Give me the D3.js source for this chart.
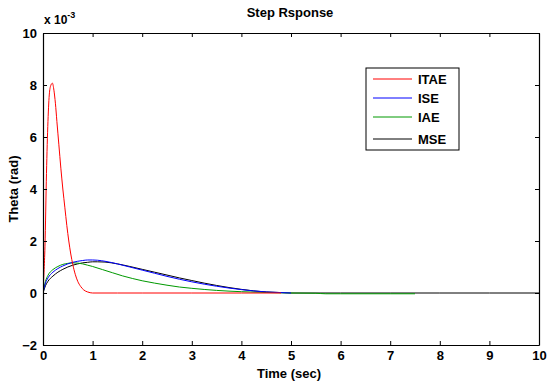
<!DOCTYPE html>
<html>
<head>
<meta charset="utf-8">
<script src="https://cdn.jsdelivr.net/npm/d3@7"></script>
<style>
  body { margin: 0; background: #fff; }
  text { font-family: "Liberation Sans", Arial, sans-serif; font-weight: bold; }
</style>
</head>
<body>
<svg id="chart" width="547" height="383"></svg>
<script>
// ---- data (Theta in units of 1e-3 rad) ----
const titleText = "Step Rsponse";
const xLabel = "Time (sec)";
const yLabel = "Theta (rad)";
const xTicks = [0,1,2,3,4,5,6,7,8,9,10];
const yTicks = [-2,0,2,4,6,8,10];

const itaeT = [0,0.02,0.04,0.07,0.10,0.13,0.16,0.19,0.22,0.25,0.28,0.32,0.36,0.40,0.44,0.48,0.52,0.56,0.60,0.65,0.70,0.76,0.82,0.90,1.0,1.5,2,3,4,4.8];
const itaeV = [0,0.8,1.8,4.6,6.6,7.7,8.0,8.07,7.8,7.3,6.6,5.7,4.8,4.0,3.3,2.6,2.0,1.5,1.1,0.72,0.45,0.25,0.12,0.04,0,0,0,0,0,0];

const iseT = [0,0.05,0.1,0.2,0.3,0.4,0.5,0.6,0.7,0.8,0.9,1.0,1.1,1.25,1.5,1.75,2,2.25,2.5,2.75,3,3.25,3.5,3.75,4,4.25,4.5,4.75,5];
const iseV = [0,0.38,0.58,0.8,0.94,1.04,1.12,1.18,1.22,1.25,1.27,1.27,1.26,1.22,1.12,1.0,0.88,0.76,0.64,0.53,0.43,0.34,0.26,0.19,0.13,0.08,0.04,0.02,0];

const iaeT = [0,0.05,0.1,0.2,0.3,0.4,0.5,0.6,0.7,0.8,0.9,1.0,1.2,1.4,1.6,1.8,2,2.25,2.5,2.75,3,3.5,4,4.5,5,5.5,5.7,6,7,7.5];
const iaeV = [0,0.45,0.68,0.9,1.02,1.1,1.14,1.16,1.15,1.12,1.07,1.02,0.9,0.78,0.66,0.56,0.47,0.38,0.3,0.23,0.18,0.1,0.05,0.02,0,-0.01,-0.03,-0.03,-0.03,-0.03];

const mseT = [0,0.05,0.1,0.2,0.3,0.4,0.5,0.6,0.7,0.8,0.9,1.0,1.1,1.25,1.5,1.75,2,2.25,2.5,2.75,3,3.25,3.5,3.75,4,4.25,4.5,4.75,5,6,7,8,9,10];
const mseV = [0,0.28,0.45,0.65,0.8,0.91,1.0,1.07,1.12,1.16,1.18,1.2,1.2,1.19,1.12,1.02,0.91,0.8,0.69,0.58,0.48,0.38,0.29,0.21,0.14,0.08,0.04,0.02,0,0,0,0,0,0];

const seriesNames = ["ITAE","ISE","IAE","MSE"];
const seriesColors = ["#ff0000","#0000ff","#009900","#000000"];

// ---- layout ----
const svg = d3.select("#chart");
const L = 43, R = 539, T = 33, B = 345;
const x = d3.scaleLinear().domain([0,10]).range([L,R]);
const y = d3.scaleLinear().domain([-2,10]).range([B,T]);

const series = [
  {name: seriesNames[0], color: seriesColors[0], t: itaeT, v: itaeV},
  {name: seriesNames[1], color: seriesColors[1], t: iseT, v: iseV},
  {name: seriesNames[2], color: seriesColors[2], t: iaeT, v: iaeV},
  {name: seriesNames[3], color: seriesColors[3], t: mseT, v: mseV}
];

svg.append("clipPath").attr("id","clip").append("rect")
  .attr("x",L).attr("y",T).attr("width",R-L).attr("height",B-T);
const line = d3.line().x(d => x(d[0])).y(d => y(d[1])).curve(d3.curveMonotoneX);
const drawOrder = [3,2,1,0];
drawOrder.forEach(i => {
  const s = series[i];
  svg.append("path")
    .attr("clip-path","url(#clip)")
    .attr("d", line(s.t.map((t,k) => [t, s.v[k]])))
    .attr("fill","none").attr("stroke",s.color).attr("stroke-width",1);
});

// axes (MATLAB style, inward ticks, box)
const tickLen = 4;
const axB = svg.append("g").attr("transform",`translate(0,${B})`)
  .call(d3.axisBottom(x).tickValues(xTicks).tickSizeInner(-tickLen).tickSizeOuter(0).tickPadding(8).tickFormat(d3.format("d")));
const axT = svg.append("g").attr("transform",`translate(0,${T})`)
  .call(d3.axisTop(x).tickValues(xTicks).tickSizeInner(-tickLen).tickSizeOuter(0).tickFormat(""));
const axL = svg.append("g").attr("transform",`translate(${L},0)`)
  .call(d3.axisLeft(y).tickValues(yTicks).tickSizeInner(-tickLen).tickSizeOuter(0).tickPadding(6).tickFormat(d3.format("d")));
const axR = svg.append("g").attr("transform",`translate(${R},0)`)
  .call(d3.axisRight(y).tickValues(yTicks).tickSizeInner(-tickLen).tickSizeOuter(0).tickFormat(""));
[axB,axT,axL,axR].forEach(g => {
  g.selectAll(".domain").attr("stroke","#000").attr("stroke-width",1.2);
  g.selectAll(".tick line").attr("stroke","#000");
  g.selectAll("text").attr("font-size",13).attr("fill","#000")
    .attr("font-family","Liberation Sans, Arial, sans-serif").attr("font-weight","bold");
});
axB.selectAll("text").attr("dy","0.55em");
axL.selectAll("text").attr("dy","0.35em");

// exponent label
const ex = svg.append("text").attr("x",44).attr("y",24).attr("font-size",12).attr("fill","#000");
ex.append("tspan").text("x 10");
ex.append("tspan").attr("dy",-6).attr("font-size",9).text("-3");

// title & labels
svg.append("text").attr("x",290).attr("y",17).attr("text-anchor","middle")
  .attr("font-size",13).text(titleText);
svg.append("text").attr("x",289).attr("y",378).attr("text-anchor","middle")
  .attr("font-size",13).text(xLabel);
svg.append("text").attr("transform","translate(18,189) rotate(-90)").attr("text-anchor","middle")
  .attr("font-size",13).text(yLabel);

// legend
const lg = svg.append("g");
lg.append("rect").attr("x",366).attr("y",68).attr("width",93).attr("height",82)
  .attr("fill","#fff").attr("stroke","#000").attr("stroke-width",1);
const legY = [79,98,117,139];
series.forEach((s,i) => {
  lg.append("line").attr("x1",373).attr("x2",412).attr("y1",legY[i]).attr("y2",legY[i])
    .attr("stroke",s.color).attr("stroke-width",1);
  lg.append("text").attr("x",418).attr("y",legY[i]).attr("dy","0.36em")
    .attr("font-size",13).text(s.name);
});
</script>
</body>
</html>
